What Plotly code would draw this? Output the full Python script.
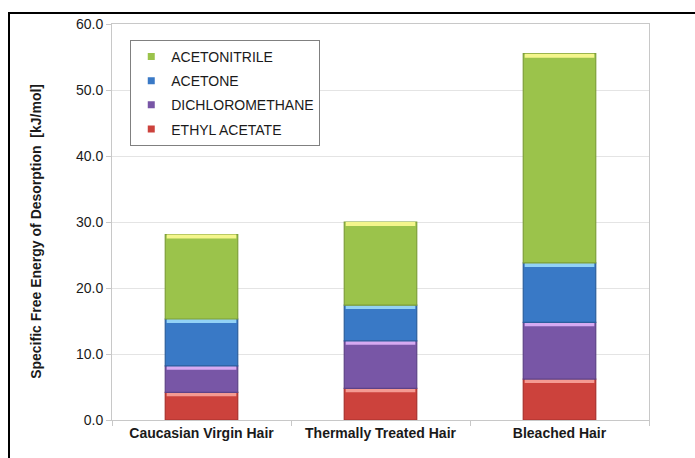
import plotly.graph_objects as go

# Hair samples and specific free energy of desorption per probe solvent (kJ/mol)
categories = ["Caucasian Virgin Hair", "Thermally Treated Hair", "Bleached Hair"]
ethyl_acetate = [4.2, 4.8, 6.2]
dichloromethane = [4.0, 7.2, 8.6]
acetone = [7.1, 5.4, 9.0]
acetonitrile = [12.8, 12.6, 31.7]
y_ticks = [0, 10, 20, 30, 40, 50, 60]

series = [
    ("ETHYL ACETATE", ethyl_acetate, "#cc423c", "#a8312c", "#f49a92"),
    ("DICHLOROMETHANE", dichloromethane, "#7856a6", "#5d4287", "#d6aaf2"),
    ("ACETONE", acetone, "#3979c6", "#2b5e9c", "#92d2f6"),
    ("ACETONITRILE", acetonitrile, "#9bc34b", "#7e9f39", "#f4f68c"),
]

FONT = "Liberation Sans, Arial, sans-serif"
fig = go.Figure()

bar_width = 0.405
edge = 0.6  # height of the bevel highlight at the top of each segment

cumulative = [0.0] * len(categories)
for rank, (name, vals, color, dark, light) in enumerate(series):
    fig.add_trace(go.Bar(
        x=categories, y=vals, base=cumulative[:], name=name,
        width=bar_width, marker=dict(color=color, line=dict(color=dark, width=1.2)),
        showlegend=False, legendgroup=name,
    ))
    tops = [b + v for b, v in zip(cumulative, vals)]
    # bevel highlight strip along the top of each segment
    fig.add_trace(go.Bar(
        x=categories, y=[edge] * len(categories), base=[t - edge for t in tops],
        width=bar_width * 0.96, marker=dict(color=light, line=dict(width=0)),
        showlegend=False, hoverinfo="skip", legendgroup=name,
    ))
    # legend swatch (top of the stack listed first)
    fig.add_trace(go.Scatter(
        x=[None], y=[None], mode="markers", name=name, legendgroup=name,
        legendrank=100 - rank,
        marker=dict(symbol="square", size=7, color=color),
    ))
    cumulative = tops

fig.update_layout(
    width=695, height=458,
    margin=dict(l=112, r=46, t=24, b=38),
    paper_bgcolor="white", plot_bgcolor="white",
    barmode="overlay",
    font=dict(family=FONT, size=14, color="#1a1a1a"),
    showlegend=True,
    legend=dict(
        x=0.034, y=0.96, xanchor="left", yanchor="top",
        bordercolor="#808080", borderwidth=1, bgcolor="white",
        traceorder="grouped", tracegroupgap=3,
        font=dict(family=FONT, size=14, color="#1a1a1a"),
        itemwidth=30, entrywidth=170,
    ),
    shapes=[
        dict(type="rect", xref="paper", yref="paper",
             x0=(9 - 112) / 537, x1=(720 - 112) / 537,
             y0=(420 - 480) / 396, y1=1 + (24 - 13) / 396,
             line=dict(color="black", width=2), layer="below"),
    ],
    annotations=[
        dict(text="<b>Specific Free Energy of Desorption  [kJ/mol]</b>",
             xref="paper", yref="paper", x=(36 - 112) / 536, y=(420 - 231) / 396,
             xanchor="center", yanchor="middle", textangle=-90, showarrow=False,
             font=dict(family=FONT, size=14, color="#1a1a1a")),
    ],
)

fig.update_yaxes(
    range=[0, 60], tickvals=y_ticks, tickformat=".1f",
    showgrid=True, gridcolor="#e4e4e4", gridwidth=1,
    showline=True, linecolor="#c8c8c8", linewidth=1, mirror=True,
    ticks="outside", ticklen=5, tickcolor="#c8c8c8",
    tickfont=dict(family=FONT, size=14, color="#1a1a1a"),
    zeroline=False,
)
fig.update_xaxes(
    showline=True, linecolor="#c8c8c8", linewidth=1, mirror=True,
    ticks="outside", ticklen=5, tickcolor="#c8c8c8", tickson="boundaries",
    tickfont=dict(family=FONT, size=14, color="#1a1a1a"),
    ticktext=[f"<b>{c}</b>" for c in categories], tickvals=categories,
)

fig.write_html("out.html")
